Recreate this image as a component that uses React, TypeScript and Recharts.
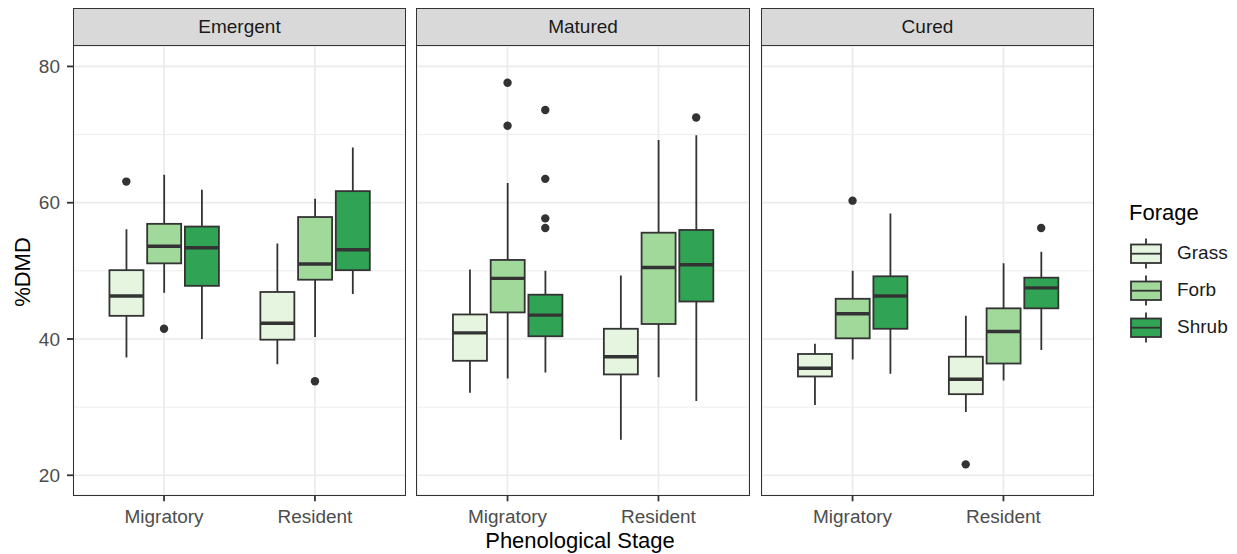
import { ComposedChart, Bar, Scatter, XAxis, YAxis, CartesianGrid } from 'recharts';

// facet panels, x groups and fill groups
const panels = ['Emergent', 'Matured', 'Cured'];
const groups = ['Migratory', 'Resident'];
const forages = ['Grass', 'Forb', 'Shrub'];
const forageColors = ['#E5F5E0', '#A1D99B', '#31A354'];

// [lower whisker, Q1, median, Q3, upper whisker] per group, then per forage
const emergentStats = [
  [[37.3, 43.4, 46.3, 50.1, 56.1], [46.8, 51.1, 53.6, 56.9, 64.1], [40.0, 47.8, 53.4, 56.5, 61.9]],
  [[36.3, 39.9, 42.3, 46.9, 54.0], [40.3, 48.7, 51.0, 57.9, 60.6], [46.6, 50.1, 53.1, 61.7, 68.1]],
];
const maturedStats = [
  [[32.1, 36.8, 40.9, 43.6, 50.2], [34.2, 43.9, 48.9, 51.6, 62.9], [35.1, 40.4, 43.5, 46.5, 50.0]],
  [[25.2, 34.8, 37.4, 41.5, 49.3], [34.4, 42.2, 50.5, 55.6, 69.2], [30.9, 45.5, 50.9, 56.0, 69.9]],
];
const curedStats = [
  [[30.3, 34.5, 35.7, 37.8, 39.3], [37.0, 40.1, 43.7, 45.9, 50.0], [34.9, 41.5, 46.3, 49.2, 58.4]],
  [[29.3, 31.9, 34.1, 37.4, 43.4], [33.9, 36.4, 41.1, 44.5, 51.1], [38.4, 44.5, 47.5, 49.0, 52.8]],
];

// outliers per group, then per forage
const emergentOutliers = [[[63.1], [41.5], []], [[], [33.8], []]];
const maturedOutliers = [[[], [77.6, 71.3], [73.6, 63.5, 57.7, 56.3]], [[], [], [72.5]]];
const curedOutliers = [[[], [60.3], []], [[21.6], [], [56.3]]];

const panelStats = [emergentStats, maturedStats, curedStats];
const panelOutliers = [emergentOutliers, maturedOutliers, curedOutliers];

const yTicks = [20, 40, 60, 80];
const yMinor = [30, 50, 70];

const X_DOMAIN: [number, number] = [0.4, 2.6];
const Y_DOMAIN: [number, number] = [17.06, 83.0];
const DODGE = 0.25;

const PLOT_TOP = 45.7;
const PLOT_BOTTOM = 495;
const STRIP_TOP = 9.3;
const PANEL_W = 332;
const Y_AXIS_W = 73.5;
const X_AXIS_H = 50;
const panelLefts = [73.5, 417, 761.5];

const INK = '#333333';
const GRID = '#EBEBEB';
const FONT = '"Liberation Sans", Arial, sans-serif';

function buildBoxes(stats: number[][][]) {
  const rows: any[] = [];
  stats.forEach((byForage, gi) => {
    byForage.forEach((s, fi) => {
      rows.push({
        x: gi + 1 + (fi - 1) * DODGE,
        range: [s[0], s[4]],
        q1: s[1],
        median: s[2],
        q3: s[3],
        fill: forageColors[fi],
      });
    });
  });
  return rows;
}

function buildOutliers(outliers: number[][][]) {
  const pts: { x: number; y: number }[] = [];
  outliers.forEach((byForage, gi) => {
    byForage.forEach((vals, fi) => {
      vals.forEach((v) => pts.push({ x: gi + 1 + (fi - 1) * DODGE, y: v }));
    });
  });
  return pts;
}

function BoxShape(props: any) {
  const { x, y, width, height, payload } = props;
  if (!payload) return null;
  const top = Math.min(y, y + height);
  const bot = Math.max(y, y + height);
  const [lo, hi] = payload.range;
  const py = (v: number) => top + ((hi - v) / (hi - lo)) * (bot - top);
  const cx = x + width / 2;
  return (
    <g>
      <line x1={cx} x2={cx} y1={top} y2={py(payload.q3)} stroke={INK} strokeWidth={1.8} />
      <line x1={cx} x2={cx} y1={py(payload.q1)} y2={bot} stroke={INK} strokeWidth={1.8} />
      <rect
        x={x}
        y={py(payload.q3)}
        width={width}
        height={py(payload.q1) - py(payload.q3)}
        fill={payload.fill}
        stroke={INK}
        strokeWidth={1.8}
      />
      <line x1={x} x2={x + width} y1={py(payload.median)} y2={py(payload.median)} stroke={INK} strokeWidth={3.4} />
    </g>
  );
}

function OutlierDot(props: any) {
  return <circle cx={props.cx} cy={props.cy} r={4.2} fill={INK} />;
}

function Panel({ index }: { index: number }) {
  const first = index === 0;
  const boxes = buildBoxes(panelStats[index]);
  const outliers = buildOutliers(panelOutliers[index]);
  const width = first ? Y_AXIS_W + PANEL_W : PANEL_W;
  const height = PLOT_BOTTOM - PLOT_TOP + X_AXIS_H;
  return (
    <div style={{ position: 'absolute', left: first ? 0 : panelLefts[index], top: PLOT_TOP }}>
      <ComposedChart width={width} height={height} data={boxes} margin={{ top: 0, right: 0, bottom: 0, left: 0 }}>
        <XAxis
          dataKey="x"
          type="number"
          domain={X_DOMAIN}
          ticks={[1, 2]}
          tickFormatter={(v: number) => groups[v - 1]}
          axisLine={false}
          tickLine={{ stroke: INK, strokeWidth: 1.8 }}
          tickSize={6}
          tickMargin={8}
          height={X_AXIS_H}
          tick={{ fill: '#4D4D4D', fontSize: 19 }}
        />
        <YAxis
          dataKey="y"
          type="number"
          domain={Y_DOMAIN}
          ticks={yTicks}
          hide={!first}
          width={Y_AXIS_W}
          axisLine={false}
          tickLine={{ stroke: INK, strokeWidth: 1.8 }}
          tickSize={6.5}
          tickMargin={7}
          tick={{ fill: '#4D4D4D', fontSize: 19 }}
          allowDataOverflow
        />
        <YAxis yAxisId="minor" type="number" domain={Y_DOMAIN} ticks={yMinor} hide allowDataOverflow />
        <CartesianGrid yAxisId="minor" vertical={false} stroke={GRID} strokeWidth={0.9} />
        <CartesianGrid stroke={GRID} strokeWidth={1.7} />
        <Bar dataKey="range" barSize={34} shape={<BoxShape />} isAnimationActive={false} />
        <Scatter data={outliers} dataKey="y" shape={<OutlierDot />} isAnimationActive={false} />
      </ComposedChart>
    </div>
  );
}

function PanelFrame({ index }: { index: number }) {
  const left = panelLefts[index];
  return (
    <div
      style={{
        position: 'absolute',
        left: left - 0.9,
        top: STRIP_TOP - 0.9,
        width: PANEL_W + 1.8,
        height: PLOT_BOTTOM - STRIP_TOP + 1.8,
        border: `1.8px solid ${INK}`,
        boxSizing: 'border-box',
        pointerEvents: 'none',
      }}
    >
      <div
        style={{
          height: PLOT_TOP - STRIP_TOP,
          background: '#D9D9D9',
          borderBottom: `1.8px solid ${INK}`,
          boxSizing: 'border-box',
          display: 'flex',
          alignItems: 'center',
          justifyContent: 'center',
          color: '#1A1A1A',
          fontSize: 19,
        }}
      >
        {panels[index]}
      </div>
    </div>
  );
}

function LegendKey({ color }: { color: string }) {
  return (
    <svg width={34} height={37}>
      <line x1={17} x2={17} y1={3.5} y2={33.5} stroke={INK} strokeWidth={1.8} />
      <rect x={2} y={9.5} width={30} height={18.5} fill={color} stroke={INK} strokeWidth={1.8} />
      <line x1={2} x2={32} y1={18.7} y2={18.7} stroke={INK} strokeWidth={1.8} />
    </svg>
  );
}

export default function App() {
  return (
    <div
      style={{
        position: 'absolute',
        left: 0,
        top: 0,
        width: 1237,
        height: 554,
        background: '#FFFFFF',
        fontFamily: FONT,
        overflow: 'hidden',
      }}
    >
      {panels.map((p, i) => (
        <Panel key={p} index={i} />
      ))}
      {panels.map((p, i) => (
        <PanelFrame key={'f' + p} index={i} />
      ))}
      <div
        style={{
          position: 'absolute',
          left: 23 - 60,
          top: 272 - 14,
          width: 120,
          height: 28,
          lineHeight: '28px',
          textAlign: 'center',
          fontSize: 22,
          color: '#000',
          transform: 'rotate(-90deg)',
        }}
      >
        %DMD
      </div>
      <div
        style={{
          position: 'absolute',
          left: 580 - 150,
          top: 527,
          width: 300,
          height: 28,
          lineHeight: '28px',
          textAlign: 'center',
          fontSize: 22,
          color: '#000',
        }}
      >
        Phenological Stage
      </div>
      <div style={{ position: 'absolute', left: 1129, top: 199, fontSize: 22, lineHeight: '28px', color: '#000' }}>
        Forage
      </div>
      {forages.map((f, i) => (
        <div
          key={f}
          style={{
            position: 'absolute',
            left: 1129,
            top: 253 + i * 37 - 18.5,
            height: 37,
            display: 'flex',
            alignItems: 'center',
          }}
        >
          <LegendKey color={forageColors[i]} />
          <span style={{ marginLeft: 14, fontSize: 19, color: '#1A1A1A' }}>{f}</span>
        </div>
      ))}
    </div>
  );
}
